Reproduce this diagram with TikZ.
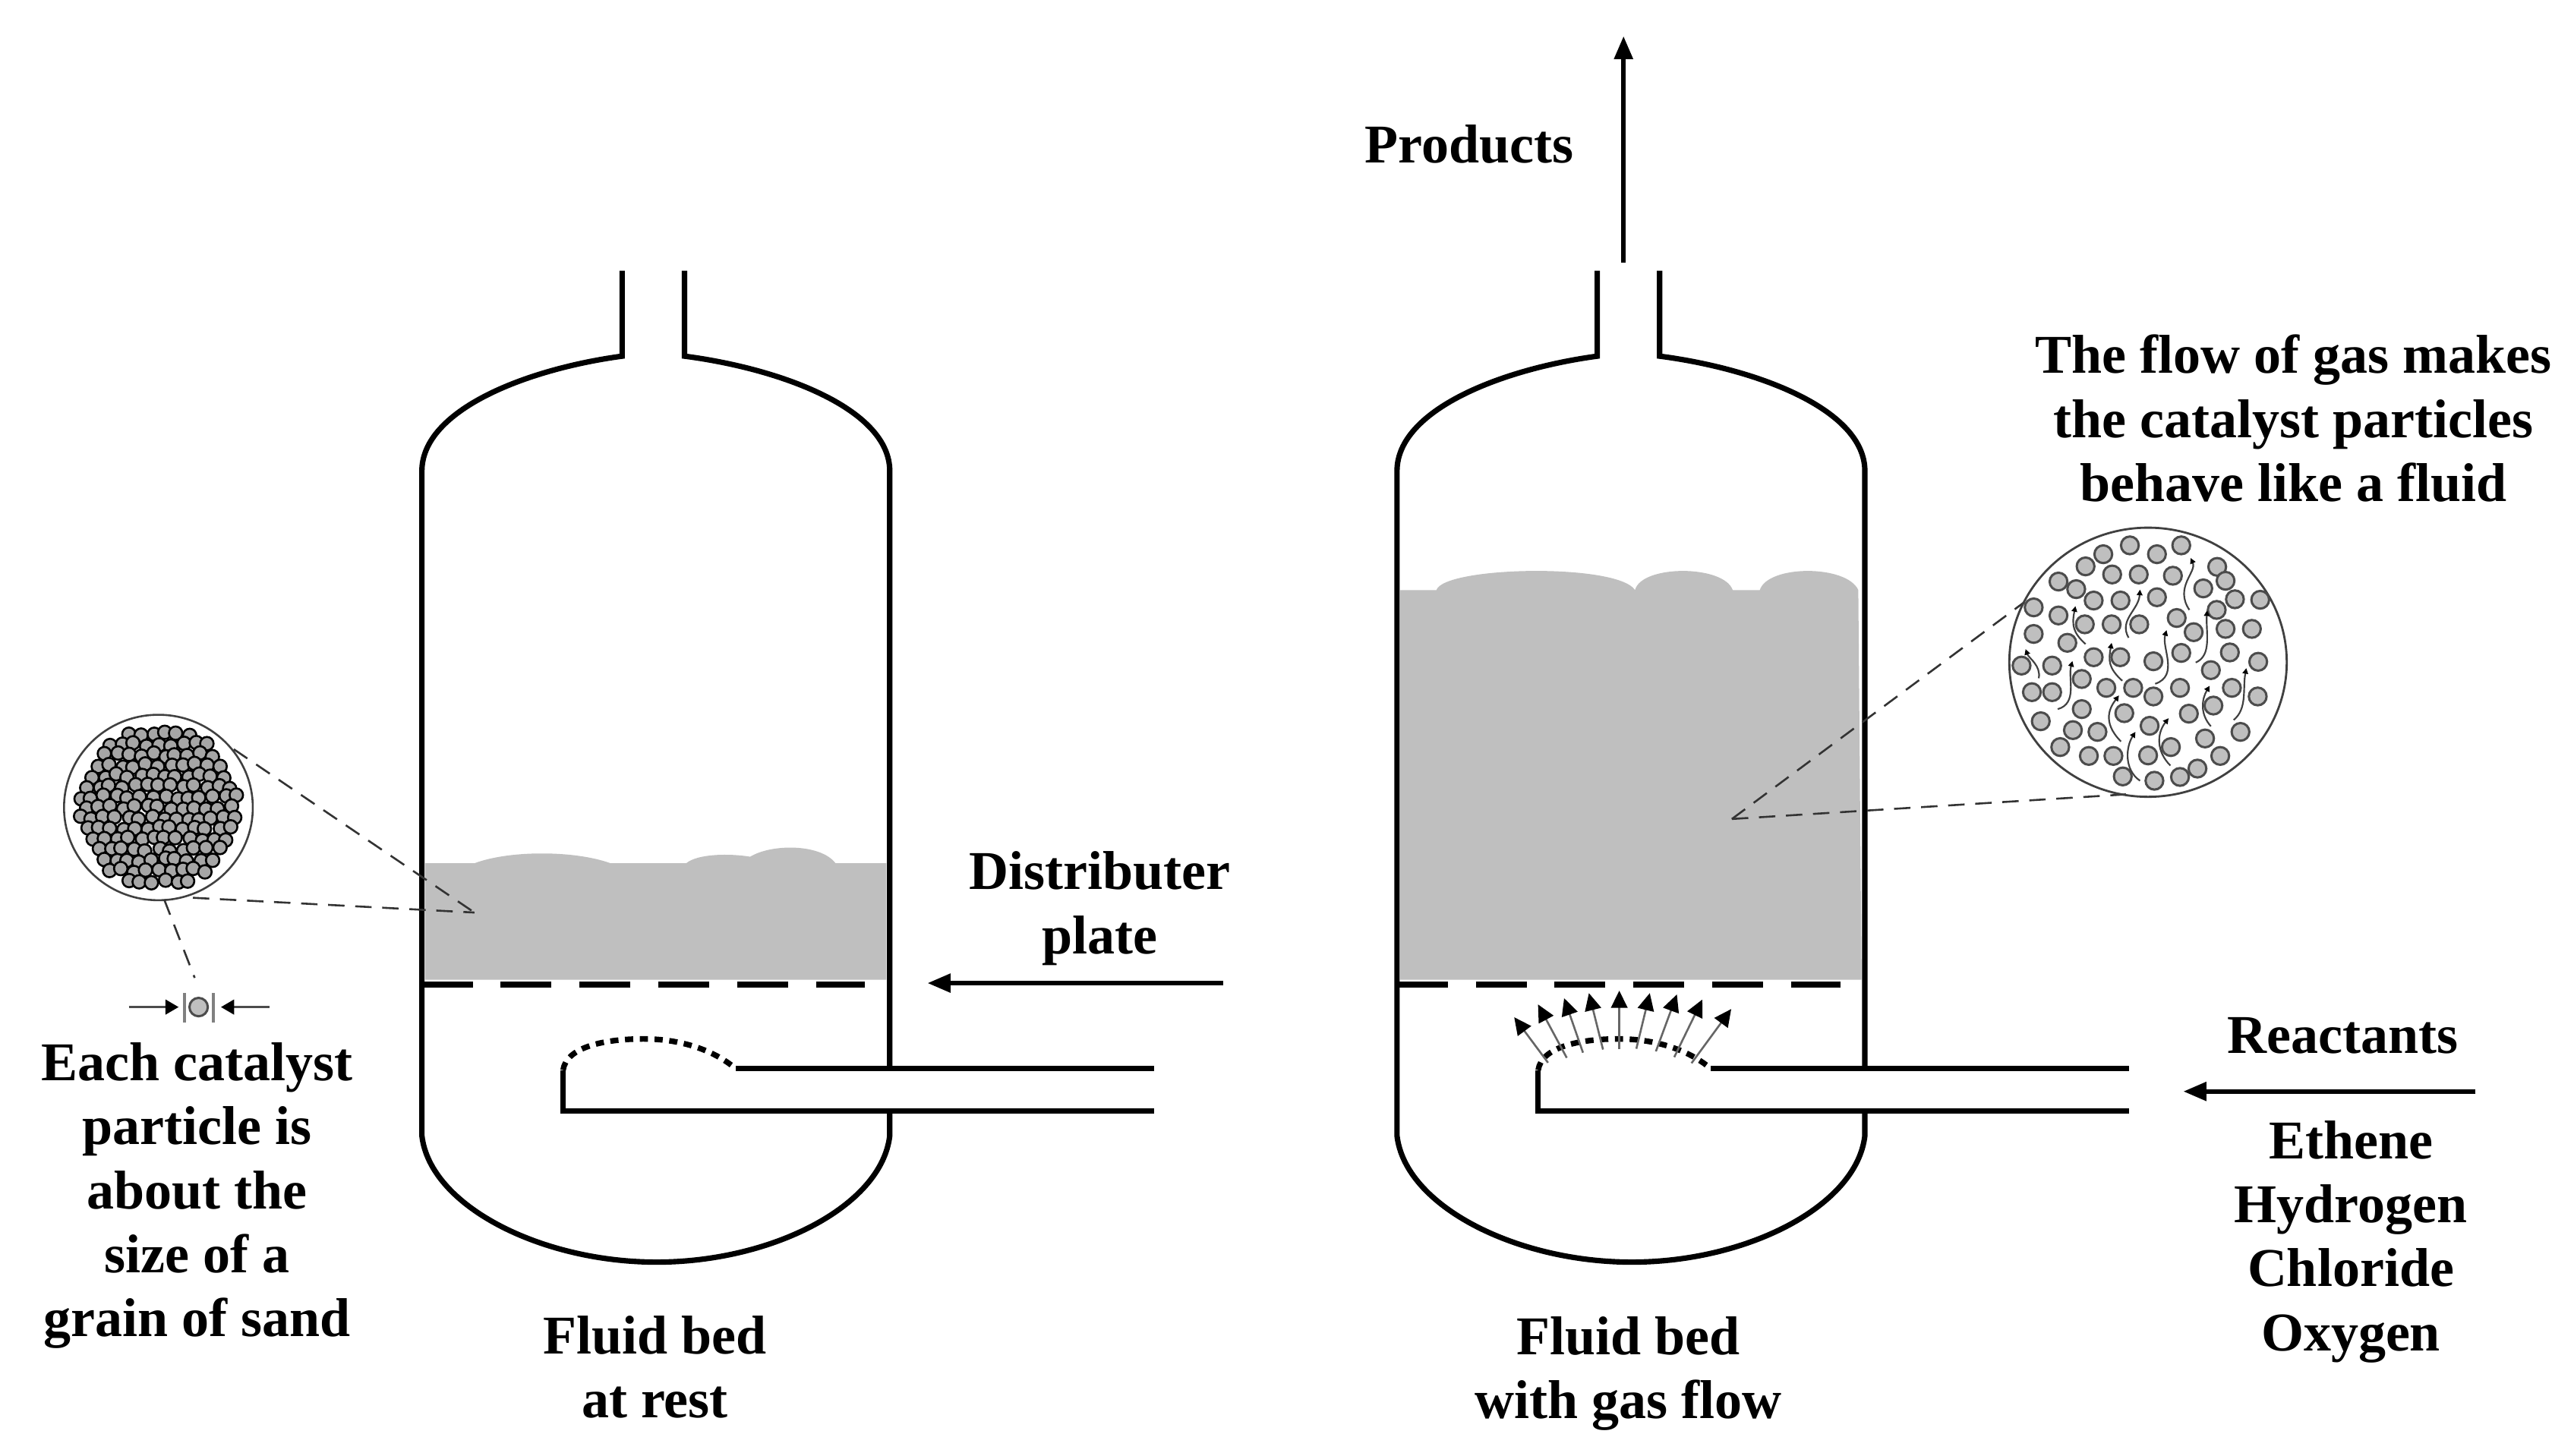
\documentclass[tikz,border=0pt]{standalone}
\usepackage{fontspec}
\setmainfont{Liberation Serif}
\usetikzlibrary{arrows.meta}
\tikzset{
  wall/.style={line width=3.3pt,black},
  bed/.style={fill=black!25,draw=none},
  plate/.style={line width=3.8pt,black,dash pattern=on 31pt off 17pt},
  holes/.style={line width=3.4pt,black,dash pattern=on 5pt off 4pt},
  lead/.style={line width=1.2pt,black!80,dash pattern=on 10pt off 6.5pt},
  flow/.style={line width=2.8pt,black,-{Triangle[length=14pt,width=11pt]}},
  jet/.style={line width=1.2pt,black!60,-{Triangle[length=10.5pt,width=10pt,color=black]}},
  wig/.style={line width=1pt,black!75,{Triangle[length=3.4pt,width=3.4pt,color=black]}-},
  lbl/.style={font=\bfseries\fontsize{33.3}{39}\selectfont,align=center,text=black,inner sep=0pt},
  grain/.style={fill=black!35,draw=black,line width=1.2pt},
  part/.style={fill=black!25,draw=black!70,line width=1.4pt},
  vessel/.pic={
    \draw[wall] (379,165) -- (379,217) .. controls (320,225) and (257,250) .. (257,287)
      -- (257,692) .. controls (262,735) and (330,769) .. (400,769)
      .. controls (470,769) and (537,735) .. (542,692) -- (542,677);
    \draw[wall] (417,165) -- (417,217) .. controls (478,225) and (542,250) .. (542,287) -- (542,651);
    \draw[plate] (257,600) -- (527,600);
    \draw[wall] (703,651) -- (448,651);
    \draw[wall] (703,677) -- (343,677) -- (343,652);
    \draw[holes] (343,652) .. controls (345,638) and (368,633) .. (392,633)
      .. controls (415,633) and (435,640) .. (448,651);
  }
}
\begin{document}
\begin{tikzpicture}[x=1pt,y=-1pt]
\useasboundingbox (0,0) rectangle (1568,886.7);
% beds
\fill[bed] (259,597) -- (259,526) -- (289,526) .. controls (310,518) and (350,518) .. (372,526)
  -- (418,526) .. controls (425,520) and (445,520) .. (457,522)
  .. controls (470,514) and (500,514) .. (509,526) -- (540,526) -- (540,597) -- cycle;
\fill[bed] (853,597) -- (853,359.5) -- (875,359.5) .. controls (880,345) and (985,343) .. (996,359.5)
  .. controls (1000,344) and (1050,344) .. (1055.5,359.5) -- (1072,359.5)
  .. controls (1077,344) and (1125,344) .. (1132,359.5) -- (1134,597) -- cycle;
% vessels
\pic {vessel};
\pic at (594,0) {vessel};
% left magnifier
\pgfmathsetseed{11}
\foreach \r in {-8,...,8}{\foreach \c in {-8,...,8}{
  \pgfmathsetmacro\px{\c*7.3+mod(\r+8,2)*3.6+rand*1.3}
  \pgfmathsetmacro\py{\r*6.4+rand*1.3}
  \pgfmathtruncatemacro\ok{(\px*\px+\py*\py<2450)?1:0}
  \ifnum\ok=1 \draw[grain] (96.5+\px,492+\py) circle (4.1pt);\fi
}}
\draw[black!75,line width=1.2pt] (96.5,492) ellipse (57.5pt and 56.5pt);
\coordinate (lp) at (289,556);
\coordinate (lu) at (142.4,456.5);
\coordinate (ll) at (117.5,547);
\coordinate (ld1) at (100,548);
\coordinate (ld2) at (118.6,595.8);
\draw[lead] (lu) -- (lp);
\draw[lead] (ll) -- (lp);
\draw[lead] (ld1) -- (ld2);
% single grain with size marks
\coordinate (g1) at (78.4,613.6);
\coordinate (g2) at (108.8,613.6);
\coordinate (g3) at (164,613.6);
\coordinate (g4) at (134.6,613.6);
\draw[black!70,line width=1.2pt,-{Triangle[length=8pt,width=9pt,color=black]}] (g1) -- (g2);
\draw[black!70,line width=1.2pt,-{Triangle[length=8pt,width=9pt,color=black]}] (g3) -- (g4);
\draw[black!50,line width=1.5pt] (112.4,605) -- (112.4,623) (130,605) -- (130,623);
\draw[part] (121,613.6) circle (5.6pt);
% right magnifier
\coordinate (rp) at (1055,499);
\coordinate (ru) at (1233,367);
\coordinate (rl) at (1295,484);
\draw[lead] (rp) -- (ru);
\draw[lead] (rp) -- (rl);
\draw[black!75,line width=1.3pt] (1308.5,403.5) ellipse (84.5pt and 82pt);
\begin{scope}[shift={(1202.6,305.3)},x=0.1542pt,y=-0.1542pt]
\foreach \a/\b in {615/175,510/210,440/258,722/210,818/175,545/290,650/290,785/295,960/260,993/315,333/318,403/348,472/393,578/393,722/380,905/345,1030/388,1130/390,958/430,235/420,333/452,437/487,543/487,652/487,800/462,867/518,993/505,1097/505,235/525,368/560,472/617,577/617,708/633,818/600,1010/598,1122/635,187/650,308/650,935/668,425/703,522/738,628/738,708/772,813/738,1018/738,1120/772,228/755,308/755,945/808,425/822,593/838,848/840,263/870,390/905,487/912,693/888,1052/912,912/938,340/972,777/972,453/1007,550/1007,687/1005,972/1007,587/1088,712/1105,813/1090,882/1057}
  {\draw[part] (\a,\b) circle (5.4pt);}
\draw[wig] (855,225) .. controls (880,280) and (790,340) .. (850,430);
\draw[wig] (655,350) .. controls (650,430) and (570,470) .. (610,540);
\draw[wig] (400,415) .. controls (385,490) and (390,520) .. (440,565);
\draw[wig] (203,585) .. controls (215,620) and (265,650) .. (255,700);
\draw[wig] (388,632) .. controls (370,700) and (410,800) .. (330,822);
\draw[wig] (543,560) .. controls (530,630) and (530,660) .. (585,710);
\draw[wig] (760,510) .. controls (740,580) and (810,690) .. (715,722);
\draw[wig] (920,432) .. controls (915,520) and (940,610) .. (875,638);
\draw[wig] (572,768) .. controls (540,810) and (500,870) .. (580,950);
\draw[wig] (637,912) .. controls (600,970) and (590,1060) .. (655,1105);
\draw[wig] (768,858) .. controls (720,920) and (720,990) .. (775,1045);
\draw[wig] (930,730) .. controls (900,780) and (890,840) .. (935,890);
\draw[wig] (1075,660) .. controls (1060,740) and (1080,820) .. (1025,865);
\end{scope}
% gas jets
\foreach \i/\xa/\ya/\xb/\yb in {1/943/647.5/922.4/619.8,2/954.4/644.5/936.9/612,3/964.3/641.4/952.8/608.2,4/976.5/639.5/967.9/605.1,5/986.4/639/986.4/603.6,6/996.8/639/1005/605.1,7/1008.7/640.6/1021.5/605.9,8/1019.9/644.1/1037/609,9/1030.4/647.8/1054.6/614.8}
  {\coordinate (j\i a) at (\xa,\ya); \coordinate (j\i b) at (\xb,\yb); \draw[jet] (j\i a) -- (j\i b);}
% main arrows
\coordinate (pa) at (989,160); \coordinate (pb) at (989,22);
\coordinate (da) at (745,599); \coordinate (db) at (565,599);
\coordinate (ra) at (1508,665); \coordinate (rb) at (1330,665);
\draw[flow] (pa) -- (pb);
\draw[flow] (da) -- (db);
\draw[flow] (ra) -- (rb);
% labels
\node[lbl] (products) at (895,88) {Products};
\node[lbl] (flowtxt) at (1397,255) {The flow of gas makes\\the catalyst particles\\behave like a fluid};
\node[lbl] (distrib) at (670,553.5) {Distributer\\plate};
\node[lbl] (each) at (120,728.5) {Each catalyst\\particle is\\about the\\size of a\\grain of sand};
\node[lbl] (rest) at (399,833) {Fluid bed\\at rest};
\node[lbl] (gas) at (992,837) {Fluid bed\\with gas flow};
\node[lbl] (react) at (1427,631) {Reactants};
\node[lbl] (feeds) at (1432,756.5) {Ethene\\Hydrogen\\Chloride\\Oxygen};
\end{tikzpicture}
\end{document}
